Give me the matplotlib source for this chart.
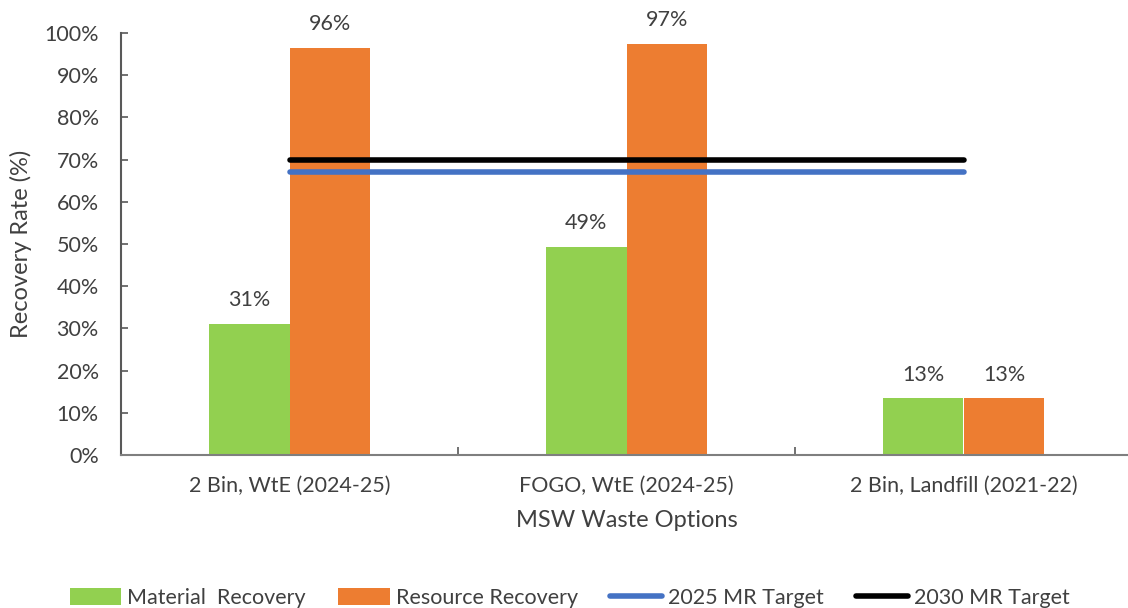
import matplotlib
matplotlib.use("Agg")
import matplotlib.pyplot as plt
import numpy as np
from matplotlib.ticker import PercentFormatter, FixedLocator

plt.rcParams['font.family'] = ['Lato', 'DejaVu Sans']

categories = ["2 Bin, WtE (2024-25)", "FOGO, WtE (2024-25)", "2 Bin, Landfill (2021-22)"]
material_recovery = [0.31, 0.494, 0.134]
resource_recovery = [0.964, 0.974, 0.134]
target_2025 = [0.67, 0.67, 0.67]
target_2030 = [0.70, 0.70, 0.70]

TEXT = "#404040"
GREEN = "#92D050"
ORANGE = "#ED7D31"
BLUE = "#4472C4"

fig = plt.figure(figsize=(11.28, 6.08), dpi=100)
ax = fig.add_axes([121 / 1128, 153 / 608, 1011 / 1128, 422 / 608])

x = np.arange(len(categories))
w = 0.24
b1 = ax.bar(x - w / 2, material_recovery, w, color=GREEN, label="Material  Recovery", zorder=2)
b2 = ax.bar(x + w / 2, resource_recovery, w, color=ORANGE, label="Resource Recovery", zorder=2)

ax.plot(x, target_2025, color=BLUE, lw=4.0, solid_capstyle="round", label="2025 MR Target", zorder=3)
ax.plot(x, target_2030, color="black", lw=4.0, solid_capstyle="round", label="2030 MR Target", zorder=3)

for bars, vals in ((b1, material_recovery), (b2, resource_recovery)):
    for rect, v in zip(bars, vals):
        ax.annotate(f"{v:.0%}", (rect.get_x() + rect.get_width() / 2, v),
                    xytext=(0, 10), textcoords="offset points",
                    ha="center", va="bottom", fontsize=15.5, color=TEXT)

ax.set_xlim(-0.5, len(categories) - 0.5)
ax.set_ylim(0, 1.0)
ax.set_yticks(np.arange(0, 1.01, 0.1))
ax.yaxis.set_major_formatter(PercentFormatter(1.0, decimals=0))
ax.set_xticks(x)
ax.set_xticklabels(categories)
ax.xaxis.set_minor_locator(FixedLocator([0.5, 1.5]))

ax.tick_params(axis="y", direction="in", length=5, width=1.2, color="#595959",
               labelsize=15.5, labelcolor=TEXT, pad=16)
ax.tick_params(axis="x", which="major", length=0, labelsize=15.5, labelcolor=TEXT, pad=15)
ax.tick_params(axis="x", which="minor", direction="in", length=6, width=1.2, color="#595959")

for s in ("top", "right"):
    ax.spines[s].set_visible(False)
ax.spines["left"].set_color("#595959")
ax.spines["left"].set_linewidth(1.5)
ax.spines["bottom"].set_color("#7F7F7F")
ax.spines["bottom"].set_linewidth(1.5)

ax.set_ylabel("Recovery Rate (%)", fontsize=17, color=TEXT, labelpad=9)
ax.set_xlabel("MSW Waste Options", fontsize=17, color=TEXT, labelpad=10)

handles, labels = ax.get_legend_handles_labels()
order = [2, 3, 0, 1]
handles = [handles[i] for i in order]
labels = [labels[i] for i in order]
fig.legend(handles, labels, loc="center", bbox_to_anchor=(0.505, 10 / 608),
           ncol=4, frameon=False, fontsize=15.5, labelcolor=TEXT,
           handlelength=2.4, handletextpad=0.28, columnspacing=1.5, handleheight=0.8)

fig.savefig("out.png", dpi=100)
